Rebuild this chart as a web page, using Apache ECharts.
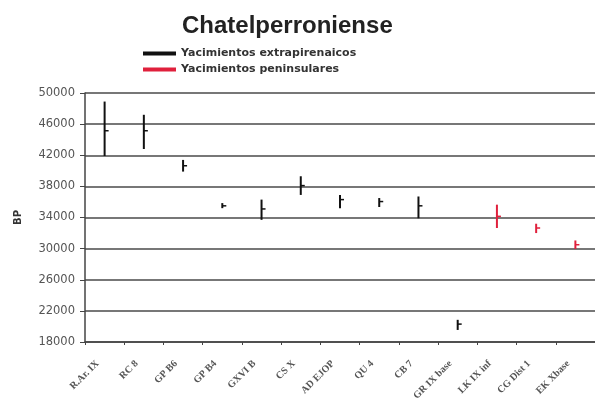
<!DOCTYPE html>
<html>
<head>
<meta charset="utf-8">
<script src="https://cdn.jsdelivr.net/npm/echarts@6/dist/echarts.min.js"></script>
<style>
  html, body { margin: 0; padding: 0; background: #fff; }
  #chart { width: 595px; height: 406px; }
</style>
</head>
<body>
<div id="chart"></div>
<script>
// categorias (yacimientos)
const categories = ['R.Ar. IX', 'RC 8', 'GP B6', 'GP B4', 'GXVI B', 'CS X', 'AD EJOP', 'QU 4', 'CB 7',
  'GR IX base', 'LK IX inf', 'CG Dist 1', 'EK Xbase'];
// valores BP: maximo, minimo y media
const highs = [48900, 47200, 41400, 35850, 36300, 39300, 36900, 36500, 36700, 20850, 35650, 33200, 31050];
const lows = [41900, 42800, 39900, 35200, 33700, 36900, 35200, 35350, 33900, 19550, 32650, 32000, 29950];
const means = [45150, 45150, 40650, 35500, 35100, 38100, 36300, 36050, 35500, 20300, 34150, 32650, 30500];
// 0 = extrapirenaicos, 1 = peninsulares
const group = [0, 0, 0, 0, 0, 0, 0, 0, 0, 0, 1, 1, 1];
const seriesNames = ['Yacimientos extrapirenaicos', 'Yacimientos peninsulares'];
const seriesColors = ['#111111', '#e0203c'];
const yTicks = [18000, 50000, 4000];

const chart = echarts.init(document.getElementById('chart'));

function renderBar(params, api) {
  const x = api.value(0);
  const top = api.coord([x, api.value(2)]);
  const bottom = api.coord([x, api.value(1)]);
  const mid = api.coord([x, api.value(3)]);
  const color = api.visual('color');
  return {
    type: 'group',
    children: [
      {
        type: 'line',
        shape: { x1: top[0], y1: top[1], x2: bottom[0], y2: bottom[1] },
        style: { stroke: color, lineWidth: 2 }
      },
      {
        type: 'line',
        shape: { x1: mid[0], y1: mid[1], x2: mid[0] + 4, y2: mid[1] },
        style: { stroke: color, lineWidth: 1.5 }
      }
    ]
  };
}

const series = seriesNames.map((name, g) => {
  const data = [];
  categories.forEach((c, i) => {
    if (group[i] === g) {
      data.push([i, lows[i], highs[i], means[i]]);
    }
  });
  return {
    name: name,
    type: 'custom',
    renderItem: renderBar,
    itemStyle: { color: seriesColors[g] },
    encode: { x: 0, y: [1, 2, 3] },
    data: data
  };
});

const option = {
  animation: false,
  title: {
    text: 'Chatelperroniense',
    left: 177,
    top: 9,
    textStyle: {
      fontFamily: 'Liberation Sans',
      fontSize: 24,
      fontWeight: 'bold',
      color: '#222'
    }
  },
  legend: {
    orient: 'vertical',
    left: 138,
    top: 43,
    itemGap: 5,
    itemWidth: 33,
    itemHeight: 4,
    icon: 'rect',
    textStyle: {
      fontFamily: 'DejaVu Sans',
      fontSize: 11,
      fontWeight: 'bold',
      color: '#333'
    },
    data: seriesNames
  },
  grid: {
    left: 85,
    right: -4,
    top: 93,
    bottom: 64
  },
  xAxis: {
    type: 'category',
    data: categories,
    axisLine: { lineStyle: { color: '#444', width: 1.5 } },
    axisTick: { show: true, inside: false, length: 3, lineStyle: { color: '#444' } },
    axisLabel: {
      rotate: 45,
      interval: 0,
      margin: 13,
      padding: [0, 10, 0, 0],
      fontFamily: 'Liberation Serif',
      fontSize: 10,
      fontWeight: 'bold',
      color: '#555'
    }
  },
  yAxis: {
    type: 'value',
    name: 'BP',
    nameLocation: 'middle',
    nameGap: 62,
    nameTextStyle: {
      fontFamily: 'DejaVu Sans',
      fontSize: 10,
      fontWeight: 'bold',
      color: '#333'
    },
    min: yTicks[0],
    max: yTicks[1],
    interval: yTicks[2],
    axisLine: { show: true, lineStyle: { color: '#444', width: 1.5 } },
    axisTick: { show: true, length: 5, lineStyle: { color: '#444' } },
    axisLabel: {
      fontFamily: 'DejaVu Sans',
      fontSize: 11.5,
      color: '#555',
      margin: 10,
      formatter: (v) => String(v)
    },
    splitLine: { lineStyle: { color: '#777', width: 2 } }
  },
  series: series
};

chart.setOption(option);
</script>
</body>
</html>
